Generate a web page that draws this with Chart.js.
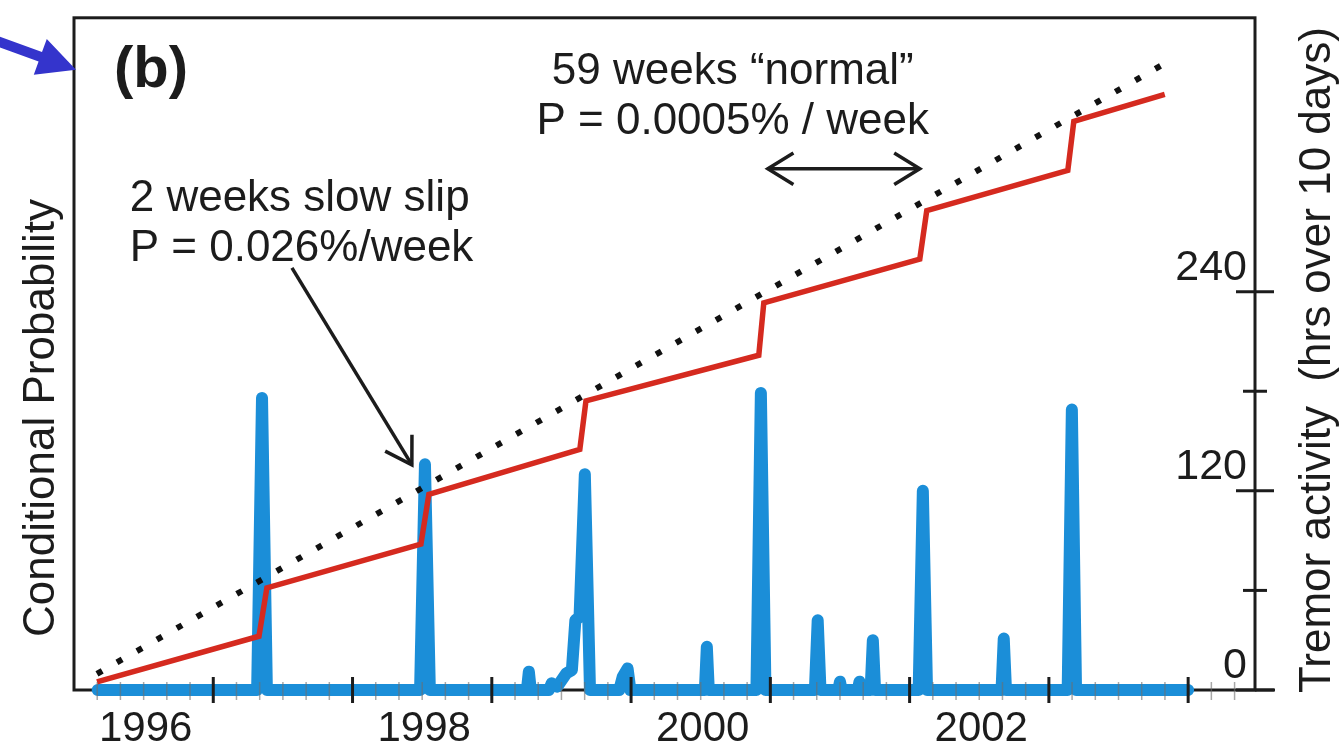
<!DOCTYPE html>
<html>
<head>
<meta charset="utf-8">
<script src="https://cdn.jsdelivr.net/npm/chart.js@4.4.1/dist/chart.umd.min.js"></script>
<style>
  html, body { margin: 0; padding: 0; background: #fff; overflow: hidden; }
  #c { display: block; }
</style>
</head>
<body>
<canvas id="c" width="1341" height="749"></canvas>
<script>
// ---- data (decimal years) ----
const yearLabels = ['1996', '1998', '2000', '2002'];
const majorTickYears = [1997, 1998, 1999, 2000, 2001, 2002, 2003, 2004];
const tremorTickValues = [0, 60, 120, 180, 240];
const tremorLabelValues = [0, 120, 240];

// Tremor activity, hours per 10-day window
const tremorYears = [
  1996.17, 1997.315, 1997.35, 1997.385,
  1998.485, 1998.52, 1998.555,
  1999.252, 1999.266, 1999.28,
  1999.41, 1999.43, 1999.47, 1999.535, 1999.575, 1999.60, 1999.63, 1999.668, 1999.705,
  1999.915, 1999.94, 1999.975, 1999.995,
  2000.53, 2000.544, 2000.558,
  2000.90, 2000.932, 2000.965,
  2001.32, 2001.34, 2001.36,
  2001.488, 2001.50, 2001.512,
  2001.628, 2001.64, 2001.652,
  2001.72, 2001.736, 2001.752,
  2002.065, 2002.095, 2002.125,
  2002.66, 2002.676, 2002.692,
  2003.135, 2003.165, 2003.195,
  2004.0
];
const tremorHours = [
  0, 0, 176, 0,
  0, 136, 0,
  0, 11, 0,
  0, 4, 2, 10, 12, 42, 44, 130, 0,
  0, 8, 13, 0,
  0, 26, 0,
  0, 179, 0,
  0, 42, 0,
  0, 5, 0,
  0, 5, 0,
  0, 30, 0,
  0, 120, 0,
  0, 31, 0,
  0, 169, 0,
  0
];

// Cumulative conditional probability (relative units, 0-100 over the panel height)
const probYears = [
  1996.165, 1997.328, 1997.385, 1998.491, 1998.548, 1999.632, 1999.676,
  2000.917, 2000.953, 2002.073, 2002.123, 2003.136, 2003.179, 2003.832
];
const probLevels = [
  1.2, 8.0, 15.2, 21.7, 29.1, 35.8, 43.0,
  49.8, 57.6, 64.1, 71.3, 77.3, 84.6, 88.6
];

// Constant-rate reference
const refYears = [1996.165, 2003.832];
const refLevels = [2.4, 93.2];

// ---- styling ----
const FONT = '"Liberation Sans", Arial, Helvetica, sans-serif';
const INK = '#1c1c1c';

const toPoints = (xs, ys) => xs.map((x, i) => ({ x, y: ys[i] }));

// Text notes and pointer arrows, placed in data units (x: year, y: probability units)
const notes = [
  { lines: ['59 weeks \u201Cnormal\u201D', 'P = 0.0005% / week'], x: 2000.73, y: [90.1, 82.7], align: 'center' },
  { lines: ['2 weeks slow slip', 'P = 0.026%/week'], x: 1996.40, y: [71.2, 63.8], align: 'left' }
];
const pointers = [
  { from: [1997.565, 62.8], to: [1998.426, 33.5], both: false },
  { from: [2000.982, 77.55], to: [2002.073, 77.55], both: true }
];

function openHead(ctx, tx, ty, fx, fy, len, ang) {
  const a = Math.atan2(fy - ty, fx - tx);
  ctx.beginPath();
  ctx.moveTo(tx + len * Math.cos(a + ang), ty + len * Math.sin(a + ang));
  ctx.lineTo(tx, ty);
  ctx.lineTo(tx + len * Math.cos(a - ang), ty + len * Math.sin(a - ang));
  ctx.stroke();
}

function rotatedText(ctx, text, x, y) {
  ctx.save();
  ctx.translate(x, y);
  ctx.rotate(-Math.PI / 2);
  ctx.textAlign = 'center';
  ctx.textBaseline = 'alphabetic';
  ctx.fillText(text, 0, 0);
  ctx.restore();
}

const panelDecor = {
  id: 'panelDecor',
  beforeDatasetsDraw(chart) {
    const { ctx, chartArea: a } = chart;
    ctx.save();
    ctx.strokeStyle = INK;
    ctx.lineWidth = 3;
    ctx.strokeRect(a.left, a.top, a.right - a.left, a.bottom - a.top);
    ctx.beginPath();
    ctx.moveTo(a.right, a.bottom);
    ctx.lineTo(a.right + 20, a.bottom);
    ctx.stroke();
    ctx.restore();
  },
  afterDatasetsDraw(chart) {
    const { ctx, chartArea: a, scales } = chart;
    const x = scales.x, yP = scales.yP, yT = scales.yT;
    ctx.save();

    // minor year ticks (every two months)
    ctx.strokeStyle = 'rgba(110,110,110,0.6)';
    ctx.lineWidth = 1.5;
    for (let m = 1; m < 6 * (x.max - x.min); m++) {
      if (m % 6 === 0) continue;
      const px = x.getPixelForValue(x.min + m / 6);
      ctx.beginPath();
      ctx.moveTo(px, a.bottom - 8);
      ctx.lineTo(px, a.bottom + 10);
      ctx.stroke();
    }
    // major year ticks
    ctx.strokeStyle = INK;
    ctx.lineWidth = 3;
    majorTickYears.forEach(yr => {
      const px = x.getPixelForValue(yr);
      ctx.beginPath();
      ctx.moveTo(px, a.bottom - 13);
      ctx.lineTo(px, a.bottom + 13);
      ctx.stroke();
    });
    // tremor axis ticks
    tremorTickValues.forEach(v => {
      const py = yT.getPixelForValue(v);
      const half = tremorLabelValues.includes(v) ? 19 : 12;
      ctx.beginPath();
      ctx.moveTo(a.right - half, py);
      ctx.lineTo(a.right + half, py);
      ctx.stroke();
    });

    // axis titles
    ctx.fillStyle = INK;
    ctx.font = '44px ' + FONT;
    rotatedText(ctx, 'Conditional Probability', 54, 418);
    rotatedText(ctx, 'Tremor activity  (hrs over 10 days)', 1330, 360);

    // panel letter
    ctx.font = 'bold 58px ' + FONT;
    ctx.textAlign = 'left';
    ctx.textBaseline = 'alphabetic';
    ctx.fillText('(b)', a.left + 40, a.top + 69);

    // notes
    ctx.font = '44px ' + FONT;
    notes.forEach(n => {
      ctx.textAlign = n.align;
      n.lines.forEach((t, i) => ctx.fillText(t, x.getPixelForValue(n.x), yP.getPixelForValue(n.y[i])));
    });

    // pointer arrows
    ctx.strokeStyle = INK;
    ctx.lineWidth = 3.5;
    ctx.lineCap = 'butt';
    ctx.lineJoin = 'miter';
    pointers.forEach(p => {
      const fx = x.getPixelForValue(p.from[0]), fy = yP.getPixelForValue(p.from[1]);
      const tx = x.getPixelForValue(p.to[0]), ty = yP.getPixelForValue(p.to[1]);
      ctx.beginPath();
      ctx.moveTo(fx, fy);
      ctx.lineTo(tx, ty);
      ctx.stroke();
      openHead(ctx, tx, ty, fx, fy, 30, 0.55);
      if (p.both) openHead(ctx, fx, fy, tx, ty, 30, 0.55);
    });

    // blue pointer at the panel corner
    const tip = [a.left + 2, a.top + 52];
    const th = 20 * Math.PI / 180;
    const d = [Math.cos(th), Math.sin(th)], nrm = [-Math.sin(th), Math.cos(th)];
    const base = [tip[0] - 38 * d[0], tip[1] - 38 * d[1]];
    const tail = [tip[0] - 90 * d[0], tip[1] - 90 * d[1]];
    ctx.fillStyle = '#3434cc';
    ctx.beginPath();
    ctx.moveTo(tail[0] + 5 * nrm[0], tail[1] + 5 * nrm[1]);
    ctx.lineTo(base[0] + 5 * nrm[0], base[1] + 5 * nrm[1]);
    ctx.lineTo(base[0] + 19 * nrm[0], base[1] + 19 * nrm[1]);
    ctx.lineTo(tip[0], tip[1]);
    ctx.lineTo(base[0] - 19 * nrm[0], base[1] - 19 * nrm[1]);
    ctx.lineTo(base[0] - 5 * nrm[0], base[1] - 5 * nrm[1]);
    ctx.lineTo(tail[0] - 5 * nrm[0], tail[1] - 5 * nrm[1]);
    ctx.closePath();
    ctx.fill();

    ctx.restore();
  }
};

new Chart(document.getElementById('c'), {
  type: 'line',
  data: {
    datasets: [
      {
        label: 'reference rate',
        data: toPoints(refYears, refLevels),
        yAxisID: 'yP',
        borderColor: '#111111',
        borderWidth: 6,
        borderDash: [6, 17],
        borderCapStyle: 'butt',
        pointRadius: 0,
        order: 1,
        clip: false
      },
      {
        label: 'conditional probability',
        data: toPoints(probYears, probLevels),
        yAxisID: 'yP',
        borderColor: '#d52a1f',
        borderWidth: 5.5,
        borderJoinStyle: 'miter',
        borderCapStyle: 'butt',
        pointRadius: 0,
        order: 2,
        clip: false
      },
      {
        label: 'tremor',
        data: toPoints(tremorYears, tremorHours),
        yAxisID: 'yT',
        borderColor: '#1b8ed8',
        borderWidth: 12,
        borderJoinStyle: 'round',
        borderCapStyle: 'round',
        pointRadius: 0,
        order: 3,
        clip: false
      }
    ]
  },
  options: {
    responsive: false,
    animation: false,
    devicePixelRatio: 1,
    events: [],
    layout: { padding: { left: 74, top: 13, right: 0, bottom: 0 } },
    elements: { line: { tension: 0 } },
    plugins: { legend: { display: false }, tooltip: { enabled: false } },
    scales: {
      x: {
        type: 'linear',
        position: 'bottom',
        min: 1996,
        max: 2004.48,
        afterBuildTicks: s => { s.ticks = yearLabels.map(l => ({ value: Number(l) + 0.5 })); },
        afterFit: s => { s.height = 59; },
        grid: { display: false, drawTicks: false },
        border: { display: false },
        ticks: {
          autoSkip: false,
          maxRotation: 0,
          padding: 14,
          labelOffset: 2,
          color: INK,
          font: { family: FONT, size: 42, lineHeight: 1.2 },
          callback: v => yearLabels[yearLabels.map(Number).indexOf(Math.round(v - 0.5))]
        }
      },
      yP: { type: 'linear', position: 'left', display: false, min: 0, max: 100 },
      yT: {
        type: 'linear',
        position: 'right',
        min: 0,
        max: 405,
        afterBuildTicks: s => { s.ticks = tremorLabelValues.map(v => ({ value: v })); },
        afterFit: s => { s.width = 86; },
        grid: { display: false, drawTicks: false },
        border: { display: false },
        ticks: {
          mirror: true,
          padding: -8,
          labelOffset: -24,
          color: INK,
          font: { family: FONT, size: 43 },
          callback: v => String(v)
        }
      }
    }
  },
  plugins: [panelDecor]
});
</script>
</body>
</html>
